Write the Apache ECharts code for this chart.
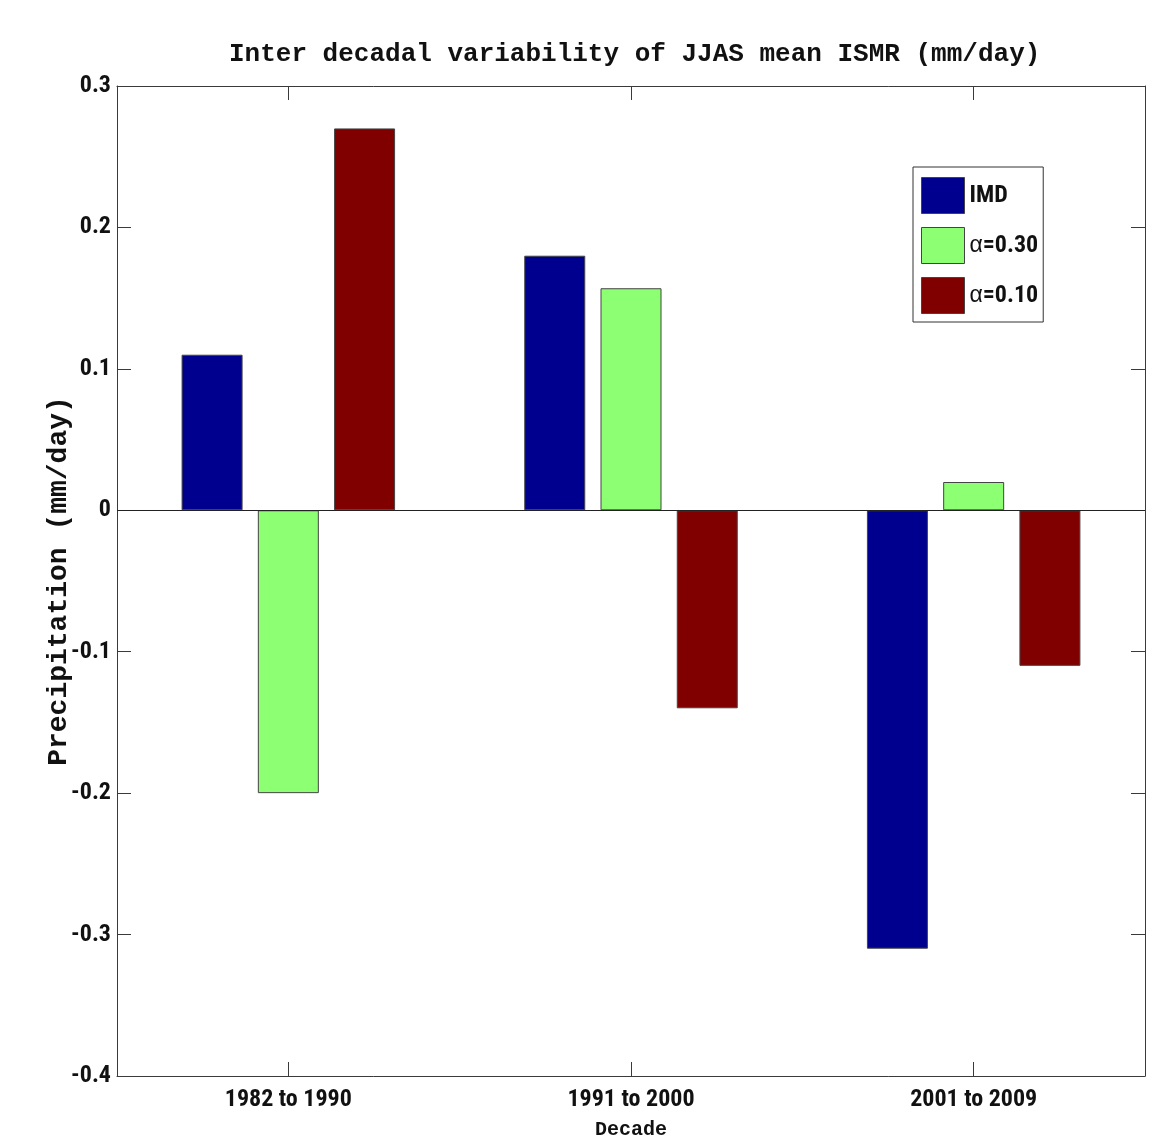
<!DOCTYPE html>
<html>
<head>
<meta charset="utf-8">
<script src="https://cdn.jsdelivr.net/npm/echarts@6/dist/echarts.min.js"></script>
<style>
html,body{margin:0;padding:0;background:#fff;}
#chart{width:1173px;height:1139px;}
</style>
</head>
<body>
<div id="chart"></div>
<script>
const categories = ['1982 to 1990', '1991 to 2000', '2001 to 2009'];
const seriesNames = ['IMD', 'α=0.30', 'α=0.10'];
const imdValues = [0.11, 0.18, -0.31];
const alpha030Values = [-0.20, 0.157, 0.02];
const alpha010Values = [0.27, -0.14, -0.11];
const yTicks = [-0.4, -0.3, -0.2, -0.1, 0, 0.1, 0.2, 0.3];

const colors = ['#00008f', '#8cff73', '#800000'];
const numFont = '"Liberation Sans Narrow", "Roboto Condensed", "DejaVu Sans Condensed", sans-serif';
const monoFont = '"Liberation Mono", "DejaVu Sans Mono", monospace';
const frameColor = '#3a3a3a';

const chart = echarts.init(document.getElementById('chart'));

const seriesData = [imdValues, alpha030Values, alpha010Values];
const series = seriesData.map((vals, i) => {
  const s = {
    name: seriesNames[i],
    type: 'bar',
    data: vals,
    barWidth: 61,
    barGap: '25%',
    itemStyle: { color: colors[i], borderColor: '#444', borderWidth: 1 },
    emphasis: { disabled: true }
  };
  if (i === 0) {
    s.markLine = {
      silent: true,
      symbol: 'none',
      label: { show: false },
      lineStyle: { color: '#222', type: 'solid', width: 1 },
      data: [{ yAxis: 0 }]
    };
  }
  return s;
});

const axisLineStyle = { show: true, lineStyle: { color: frameColor, width: 1 } };

chart.setOption({
  animation: false,
  backgroundColor: '#fff',
  title: {
    text: 'Inter decadal variability of JJAS mean ISMR (mm/day)',
    left: 224,
    top: 36,
    textStyle: { fontFamily: monoFont, fontWeight: 'bold', fontSize: 26, color: '#111' }
  },
  legend: {
    orient: 'vertical',
    left: 913,
    top: 167,
    padding: [10, 5, 8, 8],
    itemWidth: 43,
    itemHeight: 36,
    itemGap: 13,
    borderColor: '#333',
    borderWidth: 1,
    backgroundColor: '#fff',
    data: seriesNames,
    icon: 'rect',
    itemStyle: { borderColor: '#444', borderWidth: 1 },
    formatter: function (name) {
      if (name.indexOf('α') === 0) return '{a|α}' + name.slice(1);
      return name;
    },
    textStyle: {
      fontFamily: numFont, fontWeight: 'bold', fontSize: 24, color: '#111',
      rich: { a: { fontFamily: 'Liberation Sans, sans-serif', fontWeight: 'normal', fontSize: 23, color: '#111' } }
    }
  },
  grid: { left: 117, right: 28, top: 86, bottom: 63, containLabel: false, outerBoundsMode: 'none' },
  xAxis: [
    {
      type: 'category',
      data: categories,
      position: 'bottom',
      name: 'Decade',
      nameLocation: 'middle',
      nameGap: 44,
      nameMoveOverlap: false,
      nameTextStyle: { fontFamily: monoFont, fontWeight: 'bold', fontSize: 20, color: '#111' },
      axisLine: { show: true, onZero: false, lineStyle: { color: frameColor, width: 1 } },
      axisTick: { show: true, inside: true, length: 14, alignWithLabel: true, lineStyle: { color: frameColor } },
      axisLabel: { fontFamily: numFont, fontWeight: 'bold', fontSize: 24, color: '#111', margin: 12 },
      splitLine: { show: false }
    },
    {
      type: 'category',
      data: categories,
      position: 'top',
      axisLine: { show: true, onZero: false, lineStyle: { color: frameColor, width: 1 } },
      axisTick: { show: true, inside: true, length: 14, alignWithLabel: true, lineStyle: { color: frameColor } },
      axisLabel: { show: false },
      splitLine: { show: false }
    }
  ],
  yAxis: [
    {
      type: 'value',
      min: yTicks[0],
      max: yTicks[yTicks.length - 1],
      interval: 0.1,
      position: 'left',
      name: 'Precipitation (mm/day)',
      nameLocation: 'middle',
      nameGap: 44,
      nameMoveOverlap: false,
      nameTextStyle: { fontFamily: monoFont, fontWeight: 'bold', fontSize: 28, color: '#111' },
      axisLine: axisLineStyle,
      axisTick: { show: true, inside: true, length: 14, lineStyle: { color: frameColor } },
      axisLabel: {
        fontFamily: numFont, fontWeight: 'bold', fontSize: 24, color: '#111', margin: 6,
        formatter: function (v) {
          const r = Math.round(v * 10) / 10;
          return r === 0 ? '0' : r.toFixed(1);
        }
      },
      splitLine: { show: false }
    },
    {
      type: 'value',
      min: yTicks[0],
      max: yTicks[yTicks.length - 1],
      interval: 0.1,
      position: 'right',
      axisLine: axisLineStyle,
      axisTick: { show: true, inside: true, length: 14, lineStyle: { color: frameColor } },
      axisLabel: { show: false },
      splitLine: { show: false }
    }
  ],
  series: series
});
</script>
</body>
</html>
